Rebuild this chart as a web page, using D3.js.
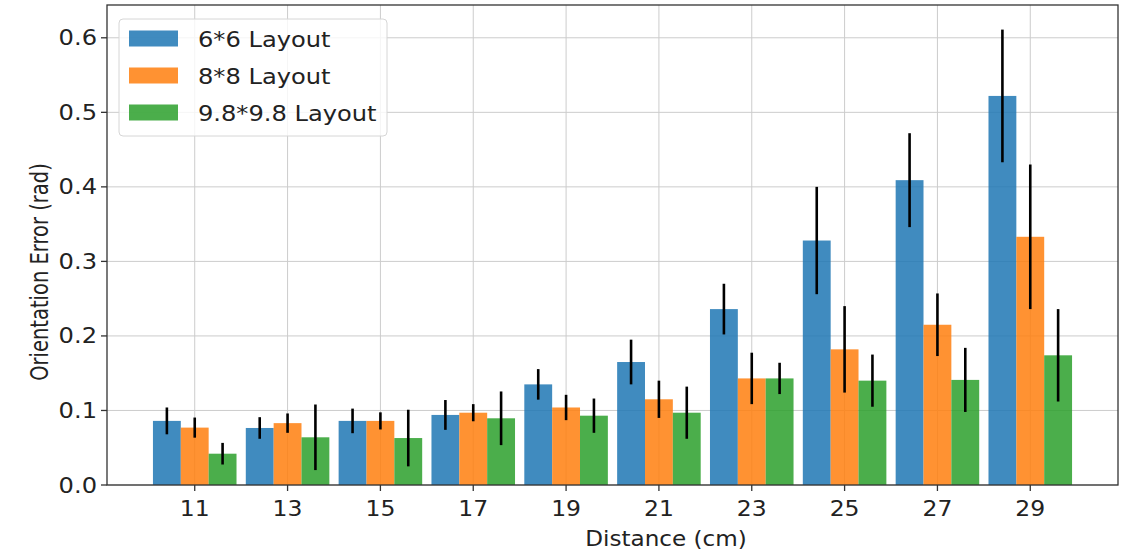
<!DOCTYPE html>
<html>
<head>
    <style>
        body { margin: 0; background: #fff; }
        text { font-family: "DejaVu Sans", sans-serif; fill: #222; }
        .grid line { stroke: #cccccc; stroke-width: 1; }
    </style>
    <script src="https://d3js.org/d3.v7.min.js"></script>
</head>
<body>
    <svg width="1128" height="551"></svg>
    <script>
        let distances = ["11", "13", "15", "17", "19", "21", "23", "25", "27", "29"];
        let seriesNames = ["6*6 Layout", "8*8 Layout", "9.8*9.8 Layout"];
        let layout6 = [0.086, 0.0765, 0.086, 0.094, 0.135, 0.165, 0.236, 0.328, 0.409, 0.522];
        let layout6Err = [0.018, 0.0145, 0.0165, 0.020, 0.0205, 0.030, 0.034, 0.072, 0.063, 0.089];
        let layout8 = [0.077, 0.083, 0.086, 0.097, 0.104, 0.115, 0.143, 0.182, 0.215, 0.333];
        let layout8Err = [0.0135, 0.013, 0.0115, 0.0115, 0.017, 0.025, 0.0345, 0.058, 0.042, 0.097];
        let layout98 = [0.042, 0.064, 0.063, 0.0895, 0.093, 0.097, 0.143, 0.140, 0.141, 0.174];
        let layout98Err = [0.0145, 0.044, 0.038, 0.036, 0.023, 0.035, 0.021, 0.035, 0.043, 0.062];
        let yTicks = [0, 0.1, 0.2, 0.3, 0.4, 0.5, 0.6];
        let colors = ["#1f77b4", "#ff7f0e", "#2ca02c"];

        let values = [layout6, layout8, layout98];
        let errs = [layout6Err, layout8Err, layout98Err];

        let svg = d3.select("svg");
        let mLeft = 107, mRight = 1118, mTop = 5, mBottom = 485;
        let barW = 0.3;

        let x = d3.scaleLinear().domain([-0.945, 9.945]).range([mLeft, mRight]);
        let y = d3.scaleLinear().domain([0, 0.644]).range([mBottom, mTop]);

        // grid
        let grid = svg.append("g").attr("class", "grid");
        grid.selectAll(".gx").data(distances).enter().append("line")
            .attr("x1", (d, i) => x(i)).attr("x2", (d, i) => x(i))
            .attr("y1", mTop).attr("y2", mBottom);
        grid.selectAll(".gy").data(yTicks).enter().append("line")
            .attr("x1", mLeft).attr("x2", mRight)
            .attr("y1", d => y(d)).attr("y2", d => y(d));

        // bars
        values.forEach(function(vals, s) {
            let off = (s - 1) * barW;
            svg.append("g").selectAll("rect").data(vals).enter().append("rect")
                .attr("x", (d, i) => x(i + off - barW / 2))
                .attr("width", x(barW) - x(0))
                .attr("y", d => y(d))
                .attr("height", d => y(0) - y(d))
                .attr("fill", colors[s])
                .attr("fill-opacity", 0.85);
        });

        // error bars
        values.forEach(function(vals, s) {
            let off = (s - 1) * barW;
            svg.append("g").selectAll("line").data(vals).enter().append("line")
                .attr("x1", (d, i) => x(i + off)).attr("x2", (d, i) => x(i + off))
                .attr("y1", (d, i) => y(d - errs[s][i]))
                .attr("y2", (d, i) => y(d + errs[s][i]))
                .attr("stroke", "#000")
                .attr("stroke-width", 2.6);
        });

        // frame
        svg.append("rect")
            .attr("x", mLeft).attr("y", mTop)
            .attr("width", mRight - mLeft).attr("height", mBottom - mTop)
            .attr("fill", "none").attr("stroke", "#333").attr("stroke-width", 1.3);

        // x ticks
        let xt = svg.append("g");
        distances.forEach(function(d, i) {
            xt.append("line")
                .attr("x1", x(i)).attr("x2", x(i))
                .attr("y1", mBottom).attr("y2", mBottom + 6)
                .attr("stroke", "#333").attr("stroke-width", 1.3);
            xt.append("text")
                .attr("transform", "translate(" + x(i) + "," + (mBottom + 31) + ") scale(1.12,1)")
                .attr("text-anchor", "middle")
                .style("font-size", "21px")
                .text(d);
        });

        // y ticks
        let yt = svg.append("g");
        yTicks.forEach(function(d) {
            yt.append("line")
                .attr("x1", mLeft - 6).attr("x2", mLeft)
                .attr("y1", y(d)).attr("y2", y(d))
                .attr("stroke", "#333").attr("stroke-width", 1.3);
            yt.append("text")
                .attr("transform", "translate(" + (mLeft - 10) + "," + (y(d) + 7.5) + ") scale(1.15,1)")
                .attr("text-anchor", "end")
                .style("font-size", "21px")
                .text(d3.format(".1f")(d));
        });

        // axis labels
        svg.append("text")
            .attr("transform", "translate(666,546) scale(1.1,1)")
            .attr("text-anchor", "middle")
            .style("font-size", "21px")
            .text("Distance (cm)");
        svg.append("text")
            .attr("transform", "translate(48,272) scale(1.3,1) rotate(-90)")
            .attr("text-anchor", "middle")
            .style("font-size", "19.5px")
            .text("Orientation Error (rad)");

        // legend
        let lg = svg.append("g");
        lg.append("rect")
            .attr("x", 119).attr("y", 19).attr("width", 268).attr("height", 117)
            .attr("rx", 4)
            .attr("fill", "#fff").attr("fill-opacity", 0.8)
            .attr("stroke", "#d6d6d6");
        seriesNames.forEach(function(n, i) {
            let cy = 38.5 + i * 37;
            lg.append("rect")
                .attr("x", 129).attr("y", cy - 8).attr("width", 49).attr("height", 16)
                .attr("fill", colors[i]).attr("fill-opacity", 0.85);
            lg.append("text")
                .attr("transform", "translate(198," + (cy + 8) + ") scale(1.15,1)")
                .style("font-size", "21px")
                .text(n);
        });
    </script>
</body>
</html>
